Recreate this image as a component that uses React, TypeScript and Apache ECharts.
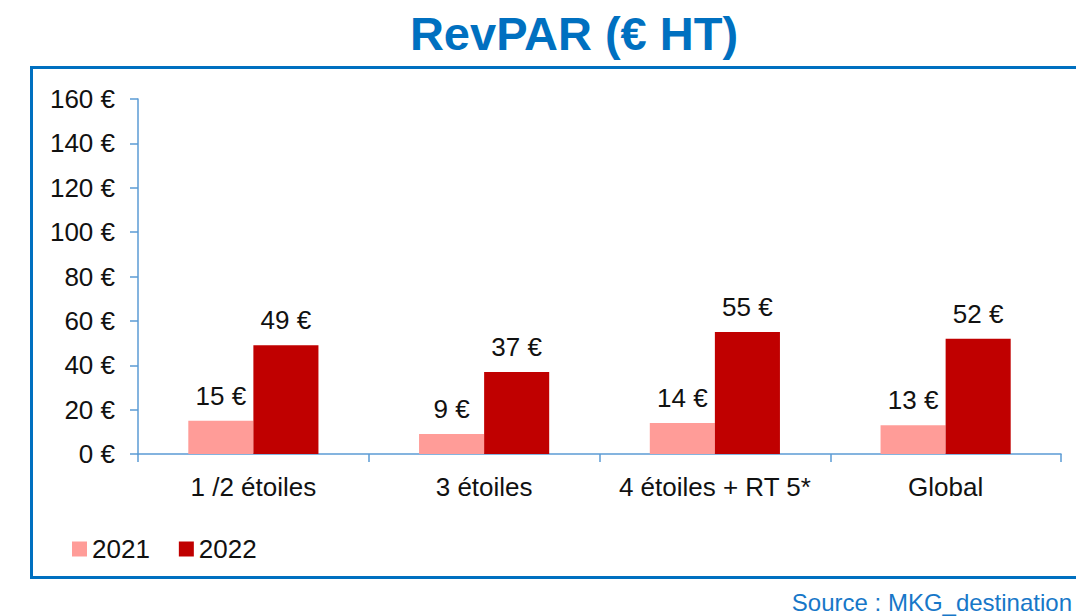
import React, { useEffect, useRef } from "react";
import * as echarts from "echarts";

const categories = ["1 /2 étoiles", "3 étoiles", "4 étoiles + RT 5*", "Global"];
const values2021 = [15, 9, 14, 13];
const values2022 = [49, 37, 55, 52];
const seriesNames = ["2021", "2022"];

const FONT = "'Liberation Sans', Arial, sans-serif";
const BLUE = "#0070C0";
const AXIS = "#5B9BD5";

export default function App() {
  const ref = useRef<HTMLDivElement>(null);
  useEffect(() => {
    if (!ref.current) return;
    const chart = echarts.init(ref.current, null, { renderer: "svg" });
    const labelStyle = {
      show: true,
      position: "top" as const,
      distance: 12,
      formatter: "{c} €",
      color: "#111",
      fontSize: 26,
      fontFamily: FONT,
    };
    chart.setOption({
      animation: false,
      backgroundColor: "#fff",
      textStyle: { fontFamily: FONT },
      title: {
        text: "RevPAR (€ HT)",
        left: 569,
        textAlign: "center",
        top: 5,
        textStyle: { color: BLUE, fontSize: 47, fontWeight: "bold", fontFamily: FONT },
      },
      graphic: [
        {
          type: "rect",
          shape: { x: 31.5, y: 67.5, width: 1100, height: 510 },
          style: { fill: "none", stroke: BLUE, lineWidth: 3 },
          silent: true,
        },
        {
          type: "text",
          right: 4,
          top: 590,
          style: { text: "Source : MKG_destination", fill: "#1777C8", fontSize: 24, fontFamily: FONT },
        },
      ],
      legend: {
        left: 67,
        top: 531,
        itemWidth: 15,
        itemHeight: 15,
        itemGap: 29,
        icon: "rect",
        data: seriesNames,
        textStyle: { color: "#111", fontSize: 26, fontFamily: FONT },
      },
      grid: { left: 138, right: 15, top: 99, bottom: 162 },
      xAxis: {
        type: "category",
        data: categories,
        axisLine: { lineStyle: { color: AXIS, width: 1.5 } },
        axisTick: { show: true, length: 8, lineStyle: { color: AXIS, width: 1.5 } },
        axisLabel: { color: "#111", fontSize: 26, fontFamily: FONT, margin: 20, interval: 0 },
      },
      yAxis: {
        type: "value",
        min: 0,
        max: 160,
        interval: 20,
        axisLine: { show: true, lineStyle: { color: AXIS, width: 1.5 } },
        axisTick: { show: true, length: 8, lineStyle: { color: AXIS, width: 1.5 } },
        splitLine: { show: false },
        axisLabel: { color: "#111", fontSize: 26, fontFamily: FONT, margin: 23, formatter: "{value} €" },
      },
      series: [
        {
          name: seriesNames[0],
          type: "bar",
          data: values2021,
          barGap: "0%",
          barCategoryGap: "43.6%",
          itemStyle: { color: "#FF9C98" },
          label: labelStyle,
        },
        {
          name: seriesNames[1],
          type: "bar",
          data: values2022,
          barGap: "0%",
          barCategoryGap: "43.6%",
          itemStyle: { color: "#C00000" },
          label: labelStyle,
        },
      ],
    });
    return () => chart.dispose();
  }, []);
  return (
    <div
      ref={ref}
      style={{ position: "fixed", left: 0, top: 0, width: 1076, height: 616 }}
    />
  );
}
